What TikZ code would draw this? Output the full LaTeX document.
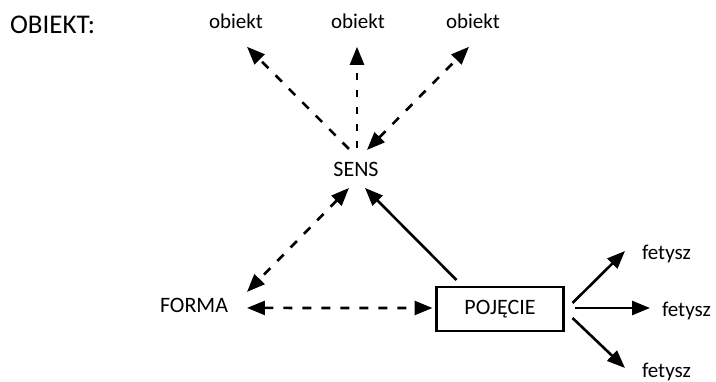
\documentclass[tikz,border=0pt]{standalone}
\usepackage{fontspec}
\setmainfont{Carlito}
\usetikzlibrary{arrows.meta}
\begin{document}
\begin{tikzpicture}[x=1pt,y=-1pt,
  lbl/.style={inner sep=0pt,outer sep=0pt,anchor=base,font=\fontsize{22}{26}\selectfont},
  small/.style={lbl,font=\fontsize{21}{25}\selectfont},
  tipdef/.tip={Triangle[length=18pt,width=14pt]},
  conn/.style={line width=2.6pt,-tipdef},
  both/.style={line width=2.6pt,tipdef-tipdef},
  dsh/.style={dash pattern=on 9pt off 10pt},
  vdsh/.style={dash pattern=on 7pt off 10pt},
  box/.style={draw,line width=2.2pt,minimum width=127pt,minimum height=44pt,
    inner sep=0pt,outer sep=0pt,font=\fontsize{22}{26}\selectfont}
  ]
\useasboundingbox (0,0) rectangle (716,382);

% labels
\node[inner sep=0pt,outer sep=0pt,anchor=base west,font=\fontsize{27}{32}\selectfont] (obj) at (10,34) {OBIEKT:};
\node[small] (ob1) at (236,29) {obiekt};
\node[small] (ob2) at (358,29) {obiekt};
\node[small] (ob3) at (473,29) {obiekt};
\node[lbl] (sens) at (356,177) {SENS};
\node[lbl] (forma) at (194,313) {FORMA};
\node[box] (poj) at (500,309) {POJĘCIE};
\node[small,anchor=base west] (f1) at (642,259.5) {fetysz};
\node[small,anchor=base west] (f2) at (662,316.5) {fetysz};
\node[small,anchor=base west] (f3) at (642,377.5) {fetysz};

% SENS -- obiekt
\draw[conn,dsh] ([shift={(-7,-21)}]sens.center) -- ([shift={(11,25)}]ob1.center);
\draw[conn,vdsh] ([shift={(1,-22)}]sens.center) -- ([shift={(-1,25)}]ob2.center);
\draw[both,dsh] ([shift={(11,-20)}]sens.center) -- ([shift={(-4,25)}]ob3.center);

% triangle SENS / FORMA / POJĘCIE
\draw[both,dsh] ([shift={(-7,18)}]sens.center) -- ([shift={(53,-14)}]forma.center);
\draw[both,dsh] ([shift={(19,2)}]forma.east) -- ([shift={(-4,-1)}]poj.west);
\draw[conn] ([shift={(20,-7)}]poj.north west) -- ([shift={(9,18)}]sens.center);

% POJĘCIE -- fetysz
\draw[conn] ([shift={(9,-6)}]poj.east) -- ([shift={(-17,-8.5)}]f1.base west);
\draw[conn] ([shift={(11.5,-1)}]poj.east) -- ([shift={(-12,-8.5)}]f2.base west);
\draw[conn] ([shift={(9,9)}]poj.east) -- ([shift={(-17,-9.5)}]f3.base west);
\end{tikzpicture}
\end{document}
